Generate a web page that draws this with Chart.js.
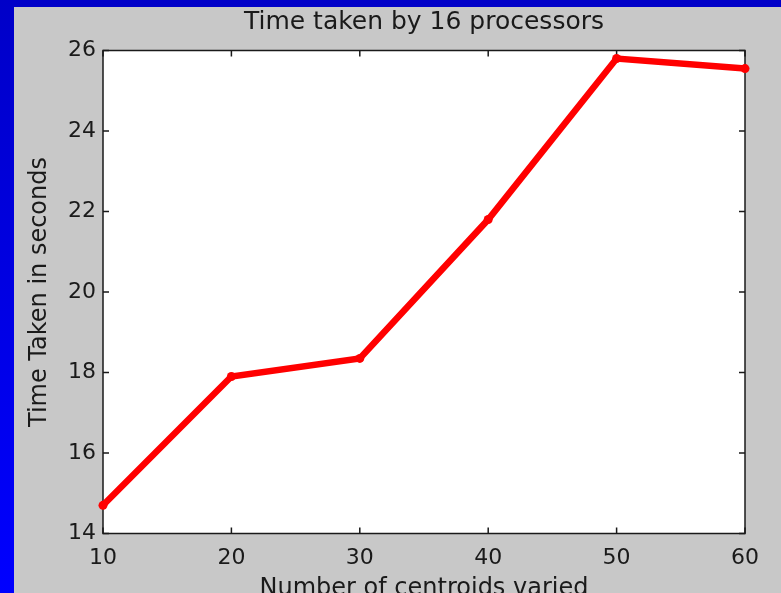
<!DOCTYPE html>
<html>
<head>
<meta charset="utf-8">
<title>Time taken by 16 processors</title>
<script src="https://cdn.jsdelivr.net/npm/chart.js@4/dist/chart.umd.min.js"></script>
<style>
  html, body { margin: 0; padding: 0; }
  body {
    width: 781px;
    height: 593px;
    overflow: hidden;
    position: relative;
    background: linear-gradient(#0000c8, #0000ff);
  }
  #panel {
    position: absolute;
    left: 14px;
    top: 7px;
    width: 767px;
    height: 600px;
    background: #c8c8c8;
  }
</style>
</head>
<body>
<div id="panel"><canvas id="timeChart" width="767" height="600"></canvas></div>
<script>
const centroids = [10, 20, 30, 40, 50, 60];
const timeTaken = [14.7, 17.9, 18.35, 21.8, 25.8, 25.55];
const xTicks = [10, 20, 30, 40, 50, 60];
const yTicks = [14, 16, 18, 20, 22, 24, 26];

const fontFamily = "'DejaVu Sans', sans-serif";

// white axes box with inward ticks on all four sides, like matlab
const matlabFrame = {
  id: "matlabFrame",
  beforeDraw(chart) {
    const { ctx, chartArea: a } = chart;
    ctx.save();
    ctx.fillStyle = "#ffffff";
    ctx.fillRect(a.left, a.top, a.right - a.left, a.bottom - a.top);
    ctx.restore();
  },
  beforeDatasetsDraw(chart) {
    const { ctx, chartArea: a, scales } = chart;
    const len = 6;
    ctx.save();
    ctx.strokeStyle = "#1a1a1a";
    ctx.lineWidth = 1.5;
    ctx.strokeRect(a.left, a.top, a.right - a.left, a.bottom - a.top);
    ctx.beginPath();
    scales.x.ticks.forEach((t) => {
      const px = scales.x.getPixelForValue(t.value);
      ctx.moveTo(px, a.bottom);
      ctx.lineTo(px, a.bottom - len);
      ctx.moveTo(px, a.top);
      ctx.lineTo(px, a.top + len);
    });
    scales.y.ticks.forEach((t) => {
      const py = scales.y.getPixelForValue(t.value);
      ctx.moveTo(a.left, py);
      ctx.lineTo(a.left + len, py);
      ctx.moveTo(a.right, py);
      ctx.lineTo(a.right - len, py);
    });
    ctx.stroke();
    ctx.restore();
  },
};

const ctx = document.getElementById("timeChart").getContext("2d");

const timeChart = new Chart(ctx, {
  type: "line",
  data: {
    datasets: [
      {
        label: "Time taken",
        data: centroids.map((c, i) => ({ x: c, y: timeTaken[i] })),
        borderColor: "#ff0000",
        backgroundColor: "#ff0000",
        borderWidth: 6.5,
        pointRadius: 4.5,
        pointBorderWidth: 0,
        pointBackgroundColor: "#ff0000",
        tension: 0,
        clip: false,
      },
    ],
  },
  options: {
    responsive: false,
    animation: false,
    layout: {
      padding: { left: 14, right: 36, top: 0, bottom: 6 },
    },
    plugins: {
      legend: { display: false },
      tooltip: { enabled: false },
      title: {
        display: true,
        fullSize: false,
        text: "Time taken by 16 processors",
        color: "#1a1a1a",
        font: { family: fontFamily, size: 25, weight: "normal", lineHeight: 1 },
        padding: { top: 3, bottom: 15.5 },
      },
    },
    scales: {
      x: {
        type: "linear",
        min: 10,
        max: 60,
        afterBuildTicks: (scale) => {
          scale.ticks = xTicks.map((v) => ({ value: v }));
        },
        afterFit: (scale) => {
          scale.height = 67.5;
        },
        grid: { display: false, drawTicks: false },
        border: { display: false },
        ticks: {
          color: "#1a1a1a",
          padding: 12,
          maxRotation: 0,
          font: { family: fontFamily, size: 22 },
        },
        title: {
          display: true,
          text: "Number of centroids varied",
          color: "#1a1a1a",
          padding: 0,
          font: { family: fontFamily, size: 24, lineHeight: 1 },
        },
      },
      y: {
        min: 14,
        max: 26,
        afterBuildTicks: (scale) => {
          scale.ticks = yTicks.map((v) => ({ value: v }));
        },
        afterFit: (scale) => {
          scale.width = 75;
        },
        grid: { display: false, drawTicks: false },
        border: { display: false },
        ticks: {
          color: "#1a1a1a",
          padding: 7,
          font: { family: fontFamily, size: 22 },
        },
        title: {
          display: true,
          text: "Time Taken in seconds",
          color: "#1a1a1a",
          padding: 0,
          font: { family: fontFamily, size: 24, lineHeight: 1 },
        },
      },
    },
  },
  plugins: [matlabFrame],
});
</script>
</body>
</html>
